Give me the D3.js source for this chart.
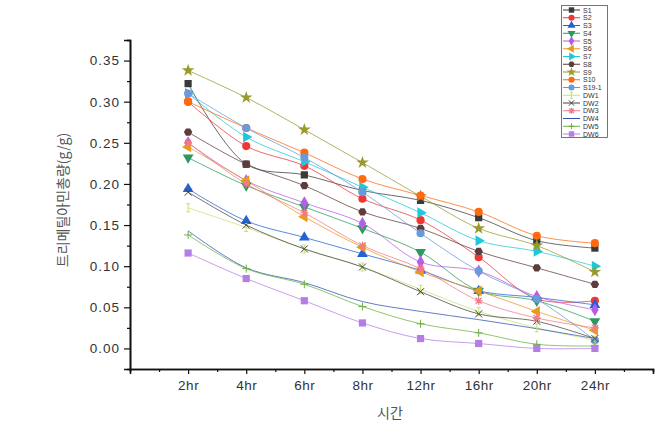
<!DOCTYPE html>
<html><head><meta charset="utf-8">
<script src="https://cdn.jsdelivr.net/npm/d3@7"></script>
<style>body{margin:0;background:#fff;} svg{display:block;}</style>
</head><body>
<svg id="c" width="657" height="431"></svg>
<script>
const categories = ["2hr","4hr","6hr","8hr","12hr","16hr","20hr","24hr"];
const seriesNames = ["S1","S2","S3","S4","S5","S6","S7","S8","S9","S10","S19-1","DW1","DW2","DW3","DW4","DW5","DW6"];
const S1   = [0.322, 0.224, 0.211, 0.192, 0.180, 0.159, 0.131, 0.122];
const S2   = [0.300, 0.246, 0.222, 0.182, 0.156, 0.111, 0.060, 0.058];
const S3   = [0.194, 0.155, 0.135, 0.115, 0.095, 0.070, 0.062, 0.053];
const S4   = [0.232, 0.198, 0.172, 0.146, 0.117, 0.070, 0.058, 0.033];
const S5   = [0.250, 0.204, 0.177, 0.152, 0.105, 0.094, 0.063, 0.047];
const S6   = [0.245, 0.204, 0.160, 0.123, 0.093, 0.070, 0.045, 0.022];
const S7   = [0.310, 0.257, 0.227, 0.196, 0.165, 0.131, 0.118, 0.100];
const S8   = [0.263, 0.224, 0.198, 0.166, 0.146, 0.118, 0.098, 0.078];
const S9   = [0.338, 0.305, 0.266, 0.226, 0.185, 0.146, 0.125, 0.093];
const S10  = [0.300, 0.268, 0.238, 0.206, 0.186, 0.166, 0.137, 0.128];
const S19_1= [0.310, 0.268, 0.232, 0.190, 0.140, 0.094, 0.060, 0.010];
const DW1  = [0.171, 0.147, 0.121, 0.099, 0.072, 0.045, 0.025, 0.010];
const DW2  = [0.190, 0.150, 0.121, 0.099, 0.069, 0.042, 0.033, 0.012];
const DW3  = [0.250, 0.200, 0.165, 0.125, 0.097, 0.058, 0.037, 0.025];
const DW4  = [0.143, 0.098, 0.080, 0.057, 0.045, 0.035, 0.024, 0.012];
const DW5  = [0.138, 0.097, 0.078, 0.051, 0.030, 0.019, 0.005, 0.003];
const DW6  = [0.116, 0.085, 0.058, 0.031, 0.012, 0.006, 0.000, 0.000];
const yTicks = [0.00, 0.05, 0.10, 0.15, 0.20, 0.25, 0.30, 0.35];
const yLabel = "트리메틸아민총량(g/g)";
const xLabel = "시간";

const values = [S1,S2,S3,S4,S5,S6,S7,S8,S9,S10,S19_1,DW1,DW2,DW3,DW4,DW5,DW6];
const colors = ["#3a3a3a","#f03535","#2262d2","#2a9a5e","#b65ee6","#e89a1c","#1ec8d8","#5e3c3c","#9a9a2c","#ff6a10","#6a9ad8","#c8e07a","#444444","#f07a8a","#3050b0","#6cb040","#b57ee6"];
const shapes = ["square","circle","up","down","diamond","left","right","hex","star","circle","circle","bar","x","ast","none","plus","square"];

const svg = d3.select("#c");
const x = d3.scaleLinear().domain([0, 9]).range([130, 653]);
const y = d3.scaleLinear().domain([-0.025, 0.375]).range([369, 40]);

// axes
const gy = svg.append("g").attr("transform","translate(130,0)");
gy.call(d3.axisLeft(y).tickValues(yTicks).tickFormat(d3.format(".2f")).tickSize(6).tickPadding(4));
gy.append("g").call(d3.axisLeft(y).tickValues(d3.range(0.025,0.4,0.05)).tickFormat("").tickSize(3));
gy.selectAll(".domain").attr("stroke","#111").attr("stroke-width",1.6);
gy.selectAll(".tick line").attr("stroke","#111").attr("stroke-width",1.2);
gy.selectAll(".tick text").attr("font-family","Arial, 'Liberation Sans', sans-serif").attr("font-size",13.5).attr("fill","#333").attr("letter-spacing","1px");

const gx = svg.append("g").attr("transform","translate(0,369)");
gx.call(d3.axisBottom(x).tickValues(d3.range(1,9)).tickFormat(i => categories[i-1]).tickSize(5).tickPadding(6));
gx.append("g").call(d3.axisBottom(x).tickValues([0,0.5,1.5,2.5,3.5,4.5,5.5,6.5,7.5,8.5]).tickFormat("").tickSize(3));
gx.selectAll(".domain").attr("stroke","#111").attr("stroke-width",1.6);
gx.selectAll(".tick line").attr("stroke","#111").attr("stroke-width",1.2);
gx.selectAll(".tick text").attr("font-family","Arial, 'Liberation Sans', sans-serif").attr("font-size",13.5).attr("fill","#333").attr("letter-spacing","0.5px");

svg.append("text").attr("x",390).attr("y",418).attr("text-anchor","middle")
  .attr("font-family","'Noto Sans CJK KR', sans-serif").attr("font-size",14).attr("fill","#555").text(xLabel);
svg.append("text").attr("transform","translate(68,200) rotate(-90)").attr("text-anchor","middle")
  .attr("font-family","'Noto Sans CJK KR', sans-serif").attr("font-size",14).attr("fill","#555").text(yLabel);

function marker(g, shape, color, cx, cy, s) {
  s = s || 1;
  const t = `translate(${cx},${cy})`;
  const sym = (type, size, rot) => g.append("path").attr("d", d3.symbol().type(type).size(size*s*s)()).attr("transform", t + (rot?` rotate(${rot})`:"")).attr("fill", color);
  switch(shape){
    case "square": sym(d3.symbolSquare, 52); break;
    case "circle": sym(d3.symbolCircle, 52); break;
    case "up": sym(d3.symbolTriangle, 50); break;
    case "down": sym(d3.symbolTriangle, 50, 180); break;
    case "left": sym(d3.symbolTriangle, 50, -90); break;
    case "right": sym(d3.symbolTriangle, 50, 90); break;
    case "diamond": sym(d3.symbolDiamond, 50); break;
    case "star": sym(d3.symbolStar, 50); break;
    case "hex": {
      const r = 4.2*s;
      const pts = d3.range(6).map(i => [cx + r*Math.cos(Math.PI/3*i), cy + r*Math.sin(Math.PI/3*i)]);
      g.append("path").attr("d","M"+pts.join("L")+"Z").attr("fill",color); break;
    }
    case "bar": g.append("path").attr("d",`M${cx},${cy-4*s}V${cy+4*s}M${cx-2*s},${cy-4*s}H${cx+2*s}M${cx-2*s},${cy+4*s}H${cx+2*s}`).attr("stroke",color).attr("stroke-width",1).attr("fill","none"); break;
    case "x": g.append("path").attr("d",`M${cx-3.5*s},${cy-3.5*s}L${cx+3.5*s},${cy+3.5*s}M${cx-3.5*s},${cy+3.5*s}L${cx+3.5*s},${cy-3.5*s}`).attr("stroke",color).attr("stroke-width",1).attr("fill","none"); break;
    case "plus": g.append("path").attr("d",`M${cx-4*s},${cy}H${cx+4*s}M${cx},${cy-4*s}V${cy+4*s}`).attr("stroke",color).attr("stroke-width",1).attr("fill","none"); break;
    case "ast": g.append("path").attr("d",`M${cx-4*s},${cy}H${cx+4*s}M${cx},${cy-4*s}V${cy+4*s}M${cx-3*s},${cy-3*s}L${cx+3*s},${cy+3*s}M${cx-3*s},${cy+3*s}L${cx+3*s},${cy-3*s}`).attr("stroke",color).attr("stroke-width",1.2).attr("fill","none"); break;
    default: break;
  }
}

const line = d3.line().x((d,i)=>x(i+1)).y(d=>y(d)).curve(d3.curveCatmullRom.alpha(0.5));
const plot = svg.append("g");
values.forEach((vals, k) => {
  plot.append("path").datum(vals).attr("d", line).attr("fill","none")
    .attr("stroke", colors[k]).attr("stroke-width",1).attr("stroke-opacity",0.75);
});
values.forEach((vals, k) => {
  const g = plot.append("g");
  vals.forEach((v,i) => marker(g, shapes[k], colors[k], x(i+1), y(v)));
});

// legend
const lg = svg.append("g");
lg.append("rect").attr("x",561.5).attr("y",5.5).attr("width",46).attr("height",132).attr("fill","#fff").attr("stroke","#555").attr("stroke-width",0.8);
seriesNames.forEach((n,k) => {
  const ly = 10 + k*7.75;
  lg.append("line").attr("x1",563).attr("x2",580).attr("y1",ly).attr("y2",ly).attr("stroke",colors[k]).attr("stroke-width",1);
  marker(lg, shapes[k], colors[k], 571.5, ly, 0.75);
  lg.append("text").attr("x",583).attr("y",ly+2.5).attr("font-family","Arial, 'Liberation Sans', sans-serif").attr("font-size",7).attr("fill","#333").text(n);
});
</script>
</body></html>
